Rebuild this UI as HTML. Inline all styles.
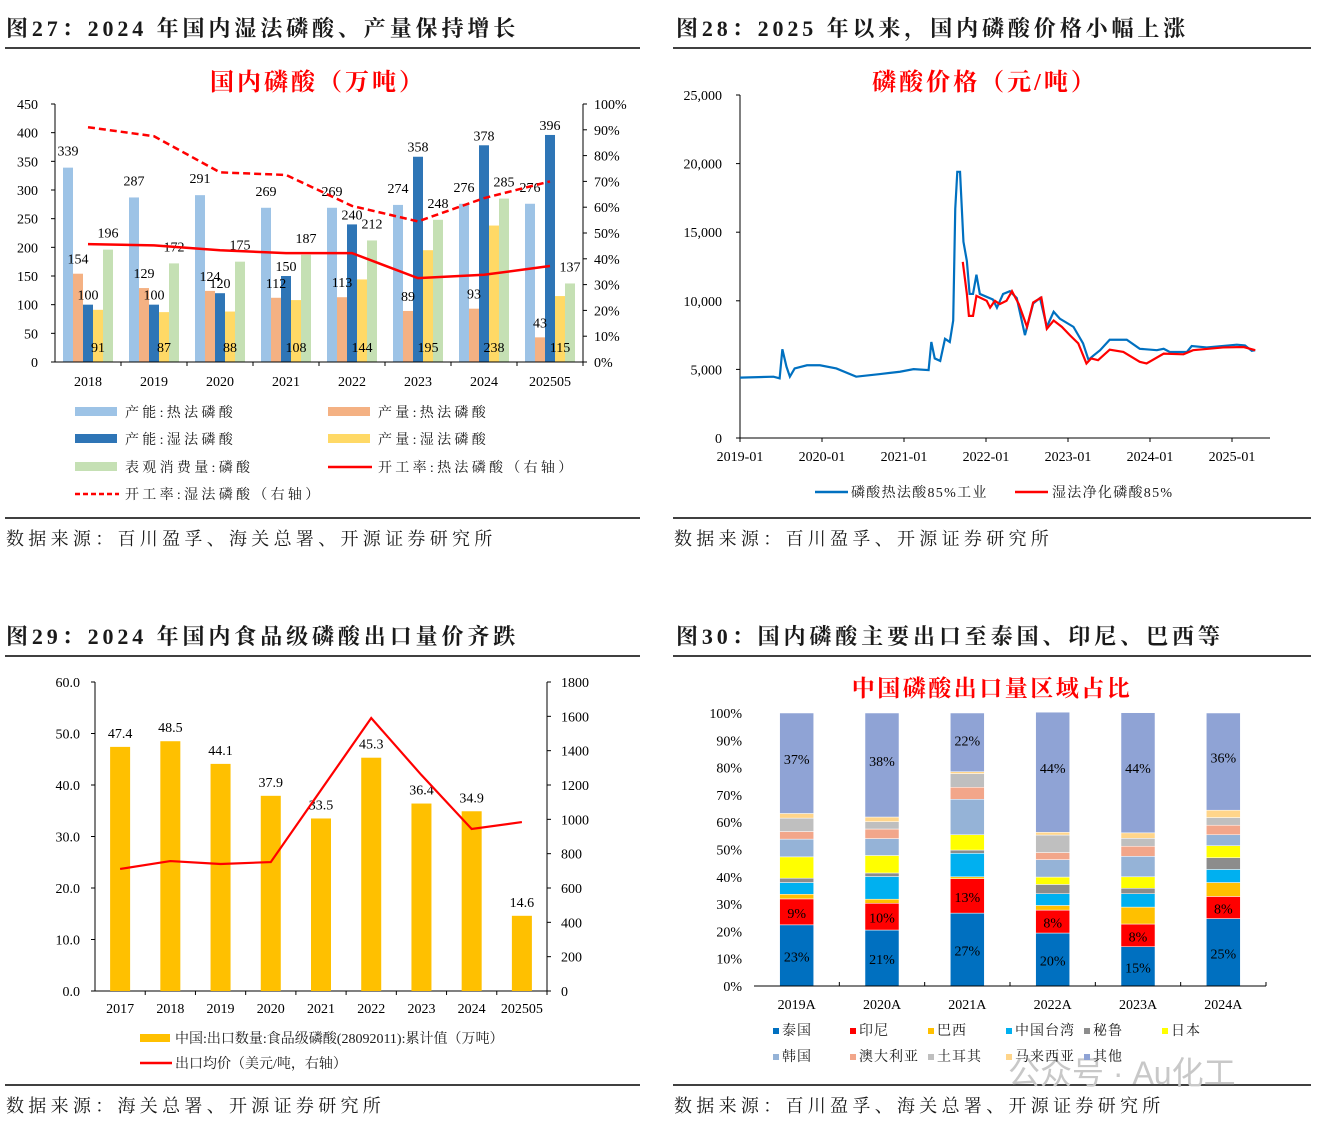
<!DOCTYPE html>
<html><head><meta charset="utf-8">
<style>
body{margin:0;background:#fff;}
svg{display:block;font-family:"Liberation Serif","Noto Serif CJK SC",serif;}
.t{font-size:14px;fill:#000;}
.h{font-size:22px;font-weight:bold;fill:#1a1a1a;letter-spacing:3.9px;}
.src{font-size:18px;fill:#1a1a1a;letter-spacing:4.3px;}
.lg{font-size:14px;fill:#1a1a1a;}
.lg27{letter-spacing:3.3px;}
</style></head>
<body>
<svg id="s" width="1321" height="1125" viewBox="0 0 1321 1125" xmlns="http://www.w3.org/2000/svg">
<text class="h" x="6" y="36">图27：2024 年国内湿法磷酸、产量保持增长</text>
<line x1="5" y1="48" x2="640" y2="48" stroke="#000" stroke-width="1.5"/>
<text class="h" x="676" y="36">图28：2025 年以来，国内磷酸价格小幅上涨</text>
<line x1="673" y1="48" x2="1311" y2="48" stroke="#000" stroke-width="1.5"/>
<line x1="5" y1="518" x2="640" y2="518" stroke="#000" stroke-width="1.5"/>
<line x1="673" y1="518" x2="1311" y2="518" stroke="#000" stroke-width="1.5"/>
<text class="src" x="6" y="545">数据来源：百川盈孚、海关总署、开源证券研究所</text>
<text class="src" x="674" y="545">数据来源：百川盈孚、开源证券研究所</text>
<text class="h" x="6" y="644">图29：2024 年国内食品级磷酸出口量价齐跌</text>
<line x1="5" y1="656" x2="640" y2="656" stroke="#000" stroke-width="1.5"/>
<text class="h" x="676" y="644">图30：国内磷酸主要出口至泰国、印尼、巴西等</text>
<line x1="673" y1="656" x2="1311" y2="656" stroke="#000" stroke-width="1.5"/>
<line x1="5" y1="1085" x2="640" y2="1085" stroke="#000" stroke-width="1.5"/>
<line x1="673" y1="1085" x2="1311" y2="1085" stroke="#000" stroke-width="1.5"/>
<text class="src" x="6" y="1112">数据来源：海关总署、开源证券研究所</text>
<text class="src" x="674" y="1112">数据来源：百川盈孚、海关总署、开源证券研究所</text>
<text x="1008" y="1084" font-size="32" fill="#c8c8c8" font-family="Liberation Sans,Noto Sans CJK SC,sans-serif">公众号 · Au化工</text>
</svg>
<script>
const NS='http://www.w3.org/2000/svg';
const S=document.getElementById('s');
function mk(tag,a,txt){const e=document.createElementNS(NS,tag);for(const k in a)e.setAttribute(k,a[k]);if(txt!==undefined)e.textContent=txt;S.appendChild(e);return e;}

/* ===== Chart 27 data ===== */
const c27Years=['2018','2019','2020','2021','2022','2023','2024','202505'];
const capThermal=[339,287,291,269,269,274,276,276];
const prodThermal=[154,129,124,112,113,89,93,43];
const capWet=[100,100,120,150,240,358,378,396];
const prodWet=[91,87,88,108,144,195,238,115];
const consumption=[196,172,175,187,212,248,285,137];
const rateThermal=[45.7,45.2,43.3,42.2,42.2,32.5,33.8,37.2];
const rateWet=[91,87.5,73.5,72.5,60.5,54.5,63.5,70];
const c27LeftTicks=[0,50,100,150,200,250,300,350,400,450];
const c27RightTicks=[0,10,20,30,40,50,60,70,80,90,100];

/* ===== Chart 28 data (month index from 2019-01) ===== */
const c28XTicks=['2019-01','2020-01','2021-01','2022-01','2023-01','2024-01','2025-01'];
const c28YTicks=[0,5000,10000,15000,20000,25000];
const thermalMonths=[0,4.9,5.8,6.2,6.8,7.3,8,9.8,11.7,14.1,17,20.5,23.4,25.4,27.6,28,28.5,29.3,30,30.7,31.2,31.5,31.8,32.2,32.7,33.2,33.6,34.1,34.6,35.1,37,37.6,38.5,39.5,40.5,41.7,42.9,43.9,44.9,45.9,46.8,48.8,50.2,51,51.7,52.7,54.1,56.6,58.5,61,62,62.9,65.4,66.1,68.3,72.7,73.9,74.9,75.4];
const thermalPrice=[4400,4470,4350,6470,5200,4470,5070,5300,5300,5070,4470,4660,4830,5020,4950,7000,5800,5620,7230,7000,8560,16700,19400,19400,14300,12900,10500,10500,11900,10500,10100,9500,10500,10700,10200,7500,9800,10200,8100,9200,8700,8100,6900,5700,6000,6400,7160,7160,6500,6400,6500,6270,6270,6700,6600,6800,6750,6350,6400];
const wetMonths=[32.6,33.2,33.5,34.1,34.6,36.1,36.6,37.3,38,39,39.8,40.8,42,42.9,44.1,44.9,45.9,47.1,48.3,49.5,50.7,51.4,52.4,54.1,56.1,58.5,59.5,62,64.9,66.3,70.7,73.7,75.4];
const wetPrice=[12840,10500,8900,8900,10360,10000,9500,10000,9760,10000,10700,9760,8100,9880,10240,7960,8560,8100,7480,6900,5430,5800,5670,6440,6270,5550,5430,6150,6100,6400,6600,6630,6400];

/* ===== Chart 29 data ===== */
const c29Years=['2017','2018','2019','2020','2021','2022','2023','2024','202505'];
const exportVol=[47.4,48.5,44.1,37.9,33.5,45.3,36.4,34.9,14.6];
const exportPrice=[711,757,740,751,1171,1590,1258,944,984];
const c29LeftTicks=[0,10,20,30,40,50,60];
const c29RightTicks=[0,200,400,600,800,1000,1200,1400,1600,1800];

/* ===== Chart 30 data ===== */
const c30Years=['2019A','2020A','2021A','2022A','2023A','2024A'];
const regions=['泰国','印尼','巴西','中国台湾','秘鲁','日本','韩国','澳大利亚','土耳其','马来西亚','其他'];
const shThailand=[22.4,20.5,26.7,19.4,14.4,24.7];
const shIndonesia=[9.5,9.8,12.6,8.4,8.3,8.1];
const shBrazil=[1.7,1.5,0.7,1.7,6.2,5.1];
const shTaiwan=[4.3,8.3,8.6,4.3,4.9,4.8];
const shPeru=[1.6,1.3,1.2,3.4,2,4.3];
const shJapan=[7.8,6.4,5.6,2.7,4.2,4.4];
const shKorea=[6.5,6.2,13,6.4,7.5,4];
const shAustralia=[2.8,3.5,4.4,2.6,3.7,3.5];
const shTurkey=[4.9,2.7,5,6.4,2.9,2.8];
const shMalaysia=[1.7,1.7,0.7,1,2,2.7];
const shOther=[36.8,38.1,21.5,44,44,35.6];
const lblThailand=['23%','21%','27%','20%','15%','25%'];
const lblIndonesia=['9%','10%','13%','8%','8%','8%'];
const lblOther=['37%','38%','22%','44%','44%','36%'];

/* ---------- Chart 27 ---------- */
(function(){
const L=55,R=583,B=362,T=104;
const y=v=>B-(v/450)*(B-T), yr=v=>B-(v/100)*(B-T);
const step=(R-L)/c27Years.length, cx=i=>L+step*(i+0.5);
let e;
e=mk('text',{x:318,y:90,'text-anchor':'middle','font-size':24,'font-weight':'bold',fill:'#f00','letter-spacing':'3px'},'国内磷酸（万吨）');

const series=[[capThermal,'#9DC3E6','cap-thermal'],[prodThermal,'#F4B183','prod-thermal'],[capWet,'#2E75B6','cap-wet'],[prodWet,'#FFD966','prod-wet'],[consumption,'#C5E0B4','consumption']];
series.forEach((s,si)=>{s[0].forEach((v,i)=>{
 e=mk('rect',{x:cx(i)-25+si*10,y:y(v),width:10,height:B-y(v),fill:s[1]});
 
});});
const lab=(v,x,yy,n)=>{e=mk('text',{x:x,y:yy,'text-anchor':'middle',class:'t','font-size':15},v);};
c27Years.forEach((yy,i)=>{
 lab(capThermal[i],cx(i)-20,y(capThermal[i])-12,'label-cap-thermal');
 lab(prodThermal[i],cx(i)-10,y(prodThermal[i])-10,'label-prod-thermal');
 lab(capWet[i],cx(i),y(capWet[i])-5,'label-cap-wet');
 lab(prodWet[i],cx(i)+10,B-10,'label-prod-wet');
 lab(consumption[i],cx(i)+20,y(consumption[i])-12,'label-consumption');
});
const pts=(arr)=>arr.map((v,i)=>cx(i)+','+yr(v)).join(' ');
e=mk('polyline',{points:pts(rateWet),fill:'none',stroke:'#f00','stroke-width':2.5,'stroke-dasharray':'7,4'});

e=mk('polyline',{points:pts(rateThermal),fill:'none',stroke:'#f00','stroke-width':2.5});

e=mk('path',{d:`M${L},${T}V${B}H${R}V${T}`,fill:'none',stroke:'#000'});

c27LeftTicks.forEach(v=>{mk('line',{x1:L-4,x2:L,y1:y(v),y2:y(v),stroke:'#000'});
 e=mk('text',{x:38,y:y(v)+5,'text-anchor':'end',class:'t','font-size':15},v);});
c27RightTicks.forEach(v=>{mk('line',{x1:R,x2:R+4,y1:yr(v),y2:yr(v),stroke:'#000'});
 e=mk('text',{x:594,y:yr(v)+5,class:'t','font-size':14},v+'%');});
c27Years.forEach((yy,i)=>{mk('line',{x1:L+step*(i+1),x2:L+step*(i+1),y1:B,y2:B+4,stroke:'#000'});
 e=mk('text',{x:cx(i),y:386,'text-anchor':'middle',class:'t'},yy);});
const leg=[['rect','#9DC3E6','产能:热法磷酸',75,412],['rect','#F4B183','产量:热法磷酸',328,412],['rect','#2E75B6','产能:湿法磷酸',75,439],['rect','#FFD966','产量:湿法磷酸',328,439],['rect','#C5E0B4','表观消费量:磷酸',75,467],['line','#f00','开工率:热法磷酸（右轴）',328,467],['dash','#f00','开工率:湿法磷酸（右轴）',75,494]];
leg.forEach(l=>{
 if(l[0]==='rect')e=mk('rect',{x:l[3],y:l[4]-5,width:42,height:9,fill:l[1]});
 else e=mk('line',{x1:l[3],x2:l[3]+44,y1:l[4],y2:l[4],stroke:l[1],'stroke-width':2.5,'stroke-dasharray':l[0]==='dash'?'5,3':'none'});
 
 e=mk('text',{x:l[3]+50,y:l[4]+5,class:'lg lg27'},l[2]);
});
})();

/* ---------- Chart 28 ---------- */
(function(){
const L=740,R=1270,B=438,T=95;
const x=m=>L+m*82/12, y=v=>B-(v/25000)*(B-T);
let e;
e=mk('text',{x:985,y:90,'text-anchor':'middle','font-size':24,'font-weight':'bold',fill:'#f00','letter-spacing':'3px'},'磷酸价格（元/吨）');

e=mk('path',{d:`M${L},${T}V${B}H${R}`,fill:'none',stroke:'#000'});

c28YTicks.forEach(v=>{mk('line',{x1:L-4,x2:L,y1:y(v),y2:y(v),stroke:'#000'});
 e=mk('text',{x:722,y:y(v)+5,'text-anchor':'end',class:'t'},v.toLocaleString('en-US'));});
c28XTicks.forEach((t,i)=>{mk('line',{x1:x(i*12),x2:x(i*12),y1:B,y2:B+4,stroke:'#000'});
 e=mk('text',{x:x(i*12),y:461,'text-anchor':'middle',class:'t'},t);});
e=mk('polyline',{points:thermalMonths.map((m,i)=>x(m)+','+y(thermalPrice[i])).join(' '),fill:'none',stroke:'#0070C0','stroke-width':2.2});

e=mk('polyline',{points:wetMonths.map((m,i)=>x(m)+','+y(wetPrice[i])).join(' '),fill:'none',stroke:'#f00','stroke-width':2.2});

e=mk('line',{x1:815,x2:848,y1:492,y2:492,stroke:'#0070C0','stroke-width':2.5});
e=mk('text',{x:851,y:497,class:'lg','font-size':13,'letter-spacing':'1.3px'},'磷酸热法酸85%工业');
e=mk('line',{x1:1015,x2:1048,y1:492,y2:492,stroke:'#f00','stroke-width':2.5});
e=mk('text',{x:1052,y:497,class:'lg','font-size':13,'letter-spacing':'1.3px'},'湿法净化磷酸85%');
})();

/* ---------- Chart 29 ---------- */
(function(){
const L=95,R=547,B=991,T=682;
const y=v=>B-(v/60)*(B-T), yr=v=>B-(v/1800)*(B-T);
const step=(R-L)/c29Years.length, cx=i=>L+step*(i+0.5);
let e;
e=mk('path',{d:`M${L},${T}V${B}H${R}V${T}`,fill:'none',stroke:'#000'});

c29LeftTicks.forEach(v=>{mk('line',{x1:L-4,x2:L,y1:y(v),y2:y(v),stroke:'#000'});
 e=mk('text',{x:80,y:y(v)+5,'text-anchor':'end',class:'t'},v.toFixed(1));});
c29RightTicks.forEach(v=>{mk('line',{x1:R,x2:R+4,y1:yr(v),y2:yr(v),stroke:'#000'});
 e=mk('text',{x:561,y:yr(v)+5,class:'t'},v);});
exportVol.forEach((v,i)=>{
 e=mk('rect',{x:cx(i)-10,y:y(v),width:20,height:B-y(v),fill:'#FFC000'});
 e=mk('text',{x:cx(i),y:y(v)-9,'text-anchor':'middle',class:'t'},v.toFixed(1));
 mk('line',{x1:L+step*(i+1),x2:L+step*(i+1),y1:B,y2:B+4,stroke:'#000'});
 e=mk('text',{x:cx(i),y:1013,'text-anchor':'middle',class:'t'},c29Years[i]);
});
e=mk('polyline',{points:exportPrice.map((v,i)=>cx(i)+','+yr(v)).join(' '),fill:'none',stroke:'#f00','stroke-width':2.2});

e=mk('rect',{x:140,y:1034,width:30,height:8,fill:'#FFC000'});
e=mk('text',{x:175,y:1043,class:'lg','font-size':13},'中国:出口数量:食品级磷酸(28092011):累计值（万吨）');
e=mk('line',{x1:140,x2:172,y1:1063,y2:1063,stroke:'#f00','stroke-width':2.5});
e=mk('text',{x:175,y:1068,class:'lg','font-size':13},'出口均价（美元/吨，右轴）');
})();

/* ---------- Chart 30 ---------- */
(function(){
const L=754,R=1266,B=986,T=713;
const y=v=>B-(v/100)*(B-T);
const step=(R-L)/c30Years.length, cx=i=>L+step*(i+0.5);
const shares=[shThailand,shIndonesia,shBrazil,shTaiwan,shPeru,shJapan,shKorea,shAustralia,shTurkey,shMalaysia,shOther];
const cols=['#0070C0','#FF0000','#FFC000','#00B0F0','#8C8C8C','#FFFF00','#95B3D7','#F2A68A','#BFBFBF','#FFD58A','#8FA3D5'];
let e;
e=mk('text',{x:992,y:696,'text-anchor':'middle','font-size':23,'font-weight':'bold',fill:'#f00','letter-spacing':'2.5px'},'中国磷酸出口量区域占比');

for(let v=0;v<=100;v+=10){e=mk('text',{x:742,y:y(v)+5,'text-anchor':'end',class:'t','font-size':13},v+'%');}
c30Years.forEach((yy,i)=>{
 let acc=0;
 shares.forEach((s,si)=>{const v=s[i];
  e=mk('rect',{x:cx(i)-17,y:y(acc+v),width:34,height:y(acc)-y(acc+v),fill:cols[si],stroke:'#fff','stroke-width':0.5});
  
  acc+=v;});
 const lb=(t,v0,v,n)=>{e=mk('text',{x:cx(i),y:y(v0+v/2)+6,'text-anchor':'middle',class:'t','font-size':15},t);};
 lb(lblThailand[i],0,shThailand[i],'label-thailand');
 lb(lblIndonesia[i],shThailand[i],shIndonesia[i],'label-indonesia');
 const oth=100-shOther[i];
 e=mk('text',{x:cx(i),y:y(oth+shOther[i]*0.55)+6,'text-anchor':'middle',class:'t','font-size':15},lblOther[i]);
 mk('line',{x1:L+step*(i+1),x2:L+step*(i+1),y1:B,y2:B-4,stroke:'#000'});
 e=mk('text',{x:cx(i),y:1009,'text-anchor':'middle',class:'t'},yy);
});
e=mk('line',{x1:L,x2:R,y1:B,y2:B,stroke:'#000'});
const lx=[773,850,928,1006,1084,1162,773,850,928,1006,1084];
regions.forEach((r,i)=>{const yy=i<6?1033:1059;
 e=mk('rect',{x:lx[i],y:yy-5,width:6,height:6,fill:cols[i]});
 e=mk('text',{x:lx[i]+9,y:yy+2,class:'lg','font-size':12,'letter-spacing':'1px'},r);
});
})();
</script>
</body></html>
